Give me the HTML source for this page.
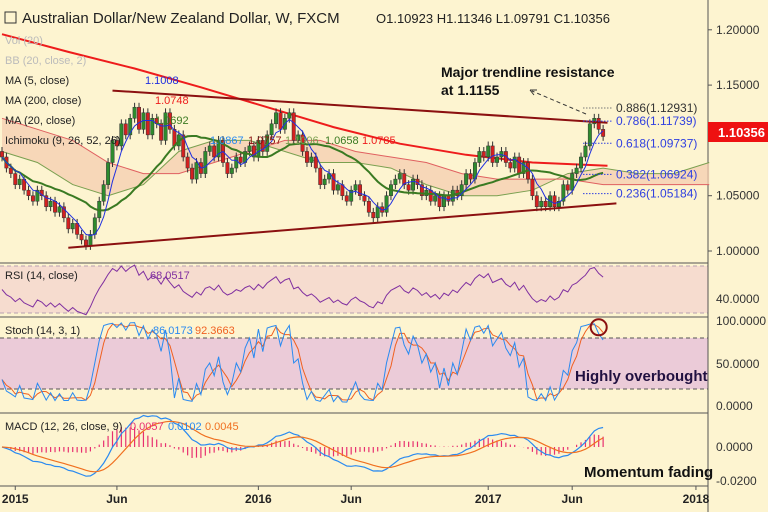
<!DOCTYPE html>
<html><head><meta charset="utf-8"><style>
body{margin:0;background:#fdf4d0;}
svg{display:block;font-family:"Liberation Sans",sans-serif;}
</style></head><body>
<svg id="c" width="768" height="512" viewBox="0 0 768 512">
<rect width="768" height="512" fill="#fdf4d0"/>
<g id="bg"></g>
<g id="marks"></g>
<g id="txt"></g>
</svg>
<script>
const closes=[1.085,1.075,1.07,1.06,1.065,1.055,1.05,1.045,1.055,1.05,1.04,
1.045,1.035,1.04,1.03,1.02,1.025,1.015,1.01,1.005,1.015,
1.03,1.045,1.06,1.08,1.10,1.095,1.115,1.105,1.12,1.13,
1.11,1.125,1.105,1.12,1.115,1.10,1.125,1.11,1.095,1.105,
1.085,1.075,1.065,1.08,1.07,1.09,1.095,1.085,1.10,1.08,
1.07,1.075,1.085,1.08,1.09,1.095,1.085,1.10,1.09,1.105,
1.115,1.125,1.11,1.12,1.125,1.10,1.105,1.09,1.08,1.085,
1.075,1.06,1.065,1.07,1.055,1.06,1.05,1.045,1.055,1.06,
1.05,1.045,1.035,1.03,1.04,1.035,1.05,1.06,1.065,1.07,
1.06,1.055,1.065,1.06,1.05,1.055,1.045,1.05,1.04,1.05,
1.045,1.055,1.05,1.06,1.07,1.065,1.08,1.09,1.085,1.095,
1.08,1.085,1.09,1.08,1.075,1.085,1.07,1.08,1.065,1.05,
1.04,1.045,1.04,1.05,1.04,1.045,1.06,1.055,1.07,1.075,
1.085,1.095,1.115,1.12,1.11,1.10356];
const ma200Weeks=[0,15,30,45,60,75,90,105,120,137];
const ma200Vals=[1.196,1.18,1.165,1.148,1.13,1.112,1.097,1.087,1.08,1.077];
const cloudWeeks=[0,8,16,24,32,40,48,56,64,72,80,88,96,104,112,120,128,136,144,152,160];
const spanA=[1.09,1.08,1.06,1.05,1.06,1.09,1.10,1.10,1.09,1.08,1.08,1.075,1.06,1.05,1.05,1.055,1.07,1.075,1.07,1.07,1.08];
const spanB=[1.12,1.11,1.10,1.08,1.07,1.07,1.08,1.09,1.10,1.10,1.09,1.085,1.08,1.07,1.065,1.065,1.065,1.06,1.06,1.06,1.06];
const upperTrend=[[25,1.145],[137,1.116]];
const lowerTrend=[[15,1.003],[139,1.043]];
const fibLevels=[0.886,0.786,0.618,0.382,0.236];
const fibPrices=[1.12931,1.11739,1.09737,1.06924,1.05184];
const priceTicks=[1.2,1.15,1.05,1.0];
const timeLabels=["2015","Jun","2016","Jun","2017","Jun","2018"];
const timeWeeks=[3,26,58,79,110,129,157];

const NS="http://www.w3.org/2000/svg";
const X=i=>2+i*4.42;
const PY=p=>251-(p-1.0)*1106;
const RY=v=>313-(v-30)*1.175;
const SY=v=>406-v*0.86;
const MY=v=>447-v*1700;
function el(t,a,p){const e=document.createElementNS(NS,t);for(const k in a)e.setAttribute(k,a[k]);(p||document.getElementById('marks')).appendChild(e);return e;}
function txt(s,x,y,a){const e=el('text',Object.assign({x:x,y:y,'font-size':11,fill:'#222'},a||{}),document.getElementById('txt'));e.textContent=s;return e;}
function path(pts){return pts.map((p,i)=>(i?'L':'M')+p[0].toFixed(1)+','+p[1].toFixed(1)).join('');}
const bg=document.getElementById('bg');

let r;
r=el('rect',{x:0,y:266,width:708,height:47,fill:'#f6dccf'},bg);
r=el('rect',{x:0,y:338,width:708,height:51,fill:'#ebcbd8'},bg);
[263,317,413,486].forEach(y=>{el('line',{x1:0,x2:708,y1:y,y2:y,stroke:'#555','stroke-width':1},bg);});
[266,313].forEach(y=>el('line',{x1:0,x2:708,y1:y,y2:y,stroke:'#b8a0b0','stroke-dasharray':'4,3'},bg));
[338,389].forEach(y=>el('line',{x1:0,x2:708,y1:y,y2:y,stroke:'#555','stroke-dasharray':'4,3'},bg));
el('line',{x1:708,x2:708,y1:0,y2:512,stroke:'#555'},bg);

const cl=cloudWeeks.map((w,i)=>[X(w),PY(spanA[i])]);
const clB=cloudWeeks.map((w,i)=>[X(w),PY(spanB[i])]);
r=el('path',{d:path(cl.concat(clB.slice().reverse()))+'Z',fill:'#f4cdb0',opacity:0.75});
r=el('path',{d:path(cl),fill:'none',stroke:'#7aa050','stroke-width':1});
r=el('path',{d:path(clB),fill:'none',stroke:'#e06060','stroke-width':1});

r=el('path',{d:path(ma200Weeks.map((w,i)=>[X(w),PY(ma200Vals[i])])),fill:'none',stroke:'#ee1c1c','stroke-width':2});

const opens=closes.map((c,i)=>i?closes[i-1]:c+0.005);
const highs=closes.map((c,i)=>Math.max(c,opens[i])+0.004);
const lows=closes.map((c,i)=>Math.min(c,opens[i])-0.004);
closes.forEach((c,i)=>{const o=opens[i],up=c>=o,x=X(i);
 const g=el('g',{});
 el('line',{x1:x,x2:x,y1:PY(highs[i]),y2:PY(lows[i]),stroke:'#333','stroke-width':1},g);
 el('rect',{x:x-1.7,y:PY(Math.max(o,c)),width:3.4,height:Math.max(1,Math.abs(PY(o)-PY(c))),fill:up?'#2e8b2e':'#d42020',stroke:'#333','stroke-width':0.5},g);
});
function sma(n){return closes.map((c,i)=>{const s=closes.slice(Math.max(0,i-n+1),i+1);return s.reduce((a,b)=>a+b,0)/s.length;});}
const ma5=sma(5),ma20=sma(20);
r=el('path',{d:path(ma20.map((v,i)=>[X(i),PY(v)])),fill:'none',stroke:'#3a7a22','stroke-width':2});
r=el('path',{d:path(ma5.map((v,i)=>[X(i),PY(v)])),fill:'none',stroke:'#2030e0','stroke-width':1});

r=el('path',{d:path(upperTrend.map(p=>[X(p[0]),PY(p[1])])),stroke:'#8b1010','stroke-width':2});
r=el('path',{d:path(lowerTrend.map(p=>[X(p[0]),PY(p[1])])),stroke:'#8b1010','stroke-width':2});

fibPrices.forEach((p,i)=>{const y=PY(p);
 r=el('line',{x1:583,x2:612,y1:y,y2:y,stroke:i==0?'#777':'#3040e0','stroke-dasharray':'1.5,1.5'});
 const t=txt(fibLevels[i].toFixed(3)+'('+p.toFixed(5)+')',616,y+4,{'font-size':12,fill:i==0?'#333':'#3040e0'});
});

// RSI (Wilder)
let ag=0.004,al=0.004;
const rsi=closes.map((c,i)=>{if(i){const d=c-closes[i-1];ag=(ag*13+Math.max(d,0))/14;al=(al*13+Math.max(-d,0))/14;}return 100-100/(1+ag/al);});
r=el('path',{d:path(rsi.map((v,i)=>[X(i),RY(Math.max(27,Math.min(73,v)))])),fill:'none',stroke:'#8030a0','stroke-width':1});

const k=closes.map((c,i)=>{const h=Math.max(...highs.slice(Math.max(0,i-13),i+1)),l=Math.min(...lows.slice(Math.max(0,i-13),i+1));return 100*(c-l)/(h-l);});
const d=k.map((v,i)=>{const s=k.slice(Math.max(0,i-2),i+1);return s.reduce((a,b)=>a+b,0)/s.length;});
r=el('path',{d:path(d.map((v,i)=>[X(i),SY(v)])),fill:'none',stroke:'#f06020','stroke-width':1});
r=el('path',{d:path(k.map((v,i)=>[X(i),SY(v)])),fill:'none',stroke:'#2a8af0','stroke-width':1});
r=el('circle',{cx:X(closes.length-2),cy:SY(d[d.length-2]),r:8,fill:'none',stroke:'#8b1010','stroke-width':2});

function ema(arr,n){const a=2/(n+1);let e=arr[0];return arr.map(v=>e=e+a*(v-e));}
const e12=ema(closes,12),e26=ema(closes,26);
const macd=e12.map((v,i)=>v-e26[i]),sig=ema(macd,9);
macd.forEach((v,i)=>{r=el('line',{x1:X(i),x2:X(i),y1:MY(0),y2:MY(v-sig[i]),stroke:'#e83070','stroke-width':1.2});});
r=el('path',{d:path(macd.map((v,i)=>[X(i),MY(v)])),fill:'none',stroke:'#2a8af0','stroke-width':1.2});
r=el('path',{d:path(sig.map((v,i)=>[X(i),MY(v)])),fill:'none',stroke:'#f07020','stroke-width':1.2});

priceTicks.forEach(p=>{const t=txt(p.toFixed(5),716,PY(p)+4,{'font-size':12,fill:'#333'});el('line',{x1:708,x2:712,y1:PY(p),y2:PY(p),stroke:'#555'});});
r=el('rect',{x:708,y:122,width:60,height:20,fill:'#ee1111'});
r=txt('1.10356',718,137,{'font-size':13,fill:'#fff','font-weight':'bold'});
[['40.0000',303],['100.0000',325],['50.0000',368],['0.0000',410],['0.0000',451],['-0.0200',485]].forEach(a=>{const t=txt(a[0],716,a[1],{'font-size':12,fill:'#333'});});
timeLabels.forEach((s,i)=>{const x=X(timeWeeks[i]);el('line',{x1:x,x2:x,y1:486,y2:490,stroke:'#555'});const t=txt(s,x,503,{'font-size':12,'font-weight':'bold','text-anchor':'middle'});});

r=txt('Australian Dollar/New Zealand Dollar, W, FXCM',22,23,{'font-size':15});
r=el('rect',{x:5,y:12,width:11,height:11,fill:'none',stroke:'#333'});
r=txt('O1.10923  H1.11346  L1.09791  C1.10356',376,23,{'font-size':13});
[['Vol (20)',44,'#bbb'],['BB (20, close, 2)',64,'#bbb'],['MA (5, close)',84,'#222'],['MA (200, close)',104,'#222'],['MA (20, close)',124,'#222'],['Ichimoku (9, 26, 52, 26)',144,'#222']].forEach(a=>{const t=txt(a[0],5,a[1],{'font-size':11,fill:a[2]});});
[['1.1008',145,84,'#2030e0'],['1.0748',155,104,'#ee1c1c'],['1.0692',155,124,'#3a7a22'],['1.0867',210,144,'#2a8af0'],['1.0757',248,144,'#8b1010'],['1.1006',285,144,'#7aa050'],['1.0658',325,144,'#3a7a22'],['1.0785',362,144,'#ee1c1c']].forEach(a=>{const t=txt(a[0],a[1],a[2],{'font-size':11,fill:a[3]});});
r=txt('RSI (14, close)',5,279,{'font-size':11});
r=txt('68.0517',150,279,{'font-size':11,fill:'#8030a0'});
r=txt('Stoch (14, 3, 1)',5,334,{'font-size':11});
r=txt('86.0173',153,334,{'font-size':11,fill:'#2a8af0'});
r=txt('92.3663',195,334,{'font-size':11,fill:'#f06020'});
r=txt('MACD (12, 26, close, 9)',5,430,{'font-size':11});
r=txt('0.0057',130,430,{'font-size':11,fill:'#e83070'});
r=txt('0.0102',168,430,{'font-size':11,fill:'#2a8af0'});
r=txt('0.0045',205,430,{'font-size':11,fill:'#f07020'});

r=txt('Major trendline resistance',441,77,{'font-size':14,'font-weight':'bold',fill:'#111'});
r=txt('at 1.1155',441,95,{'font-size':14,'font-weight':'bold',fill:'#111'});
r=el('line',{x1:586,y1:114,x2:532,y2:91,stroke:'#333','stroke-dasharray':'4,3'});
el('path',{d:'M530,90 L537,90 M530,90 L534,95',stroke:'#333',fill:'none'});
r=txt('Highly overbought',575,381,{'font-size':15,'font-weight':'bold',fill:'#201040'});
r=txt('Momentum fading',584,477,{'font-size':15,'font-weight':'bold',fill:'#111'});
</script>
</body></html>
